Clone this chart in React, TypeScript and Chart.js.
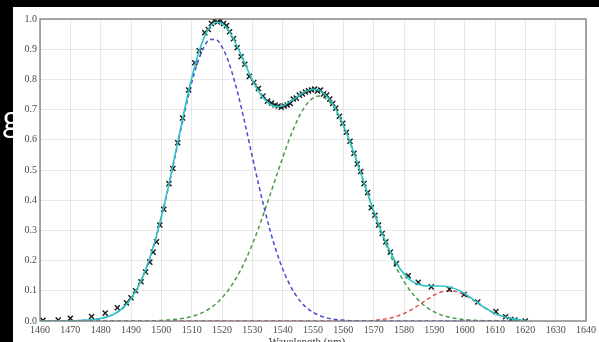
import React, { useEffect, useRef } from "react";
import { Chart, registerables } from "chart.js";

Chart.register(...registerables);

// Wavelength grid (nm) for the fitted curves
const waveGrid = [
  1460, 1462, 1464, 1466, 1468, 1470, 1472, 1474, 1476, 1478,
  1480, 1482, 1484, 1486, 1488, 1490, 1492, 1494, 1496, 1498,
  1500, 1502, 1504, 1506, 1508, 1510, 1512, 1514, 1516, 1518,
  1520, 1522, 1524, 1526, 1528, 1530, 1532, 1534, 1536, 1538,
  1540, 1542, 1544, 1546, 1548, 1550, 1552, 1554, 1556, 1558,
  1560, 1562, 1564, 1566, 1568, 1570, 1572, 1574, 1576, 1578,
  1580, 1582, 1584, 1586, 1588, 1590, 1592, 1594, 1596, 1598,
  1600, 1602, 1604, 1606, 1608, 1610, 1612, 1614, 1616, 1618,
  1620,
];

// Total fit (cyan)
const fitCurve = [
  0, 0, 0, 0, 0, 0, 0.001, 0.002, 0.003, 0.005,
  0.008, 0.013, 0.021, 0.033, 0.05, 0.074, 0.107, 0.149, 0.203, 0.268,
  0.345, 0.431, 0.525, 0.621, 0.716, 0.804, 0.878, 0.936, 0.974, 0.989,
  0.985, 0.964, 0.93, 0.888, 0.842, 0.798, 0.761, 0.734, 0.717, 0.71,
  0.713, 0.724, 0.737, 0.751, 0.762, 0.767, 0.764, 0.75, 0.726, 0.692,
  0.649, 0.598, 0.542, 0.483, 0.423, 0.365, 0.31, 0.261, 0.218, 0.183,
  0.156, 0.136, 0.124, 0.118, 0.116, 0.116, 0.116, 0.114, 0.109, 0.102,
  0.091, 0.077, 0.063, 0.048, 0.036, 0.025, 0.017, 0.011, 0.007, 0.004,
  0.002,
];

// Component 1 (blue dashed)
const peakBlue = [
  0, 0, 0, 0, 0, 0, 0.001, 0.002, 0.003, 0.005,
  0.008, 0.013, 0.021, 0.033, 0.05, 0.074, 0.107, 0.149, 0.202, 0.267,
  0.343, 0.428, 0.52, 0.614, 0.706, 0.789, 0.857, 0.906, 0.932, 0.932,
  0.908, 0.863, 0.799, 0.722, 0.635, 0.544, 0.455, 0.371, 0.295, 0.228,
  0.172, 0.127, 0.091, 0.063, 0.043, 0.029, 0.019, 0.012, 0.007, 0.004,
  0.003, 0.001, 0.001, 0, 0, 0, 0, 0, 0, 0,
  0, 0, 0, 0, 0, 0, 0, 0, 0, 0,
  0, 0, 0, 0, 0, 0, 0, 0, 0, 0,
  0,
];

// Component 2 (green dashed)
const peakGreen = [
  0, 0, 0, 0, 0, 0, 0, 0, 0, 0,
  0, 0, 0, 0, 0, 0, 0, 0, 0.001, 0.001,
  0.002, 0.003, 0.005, 0.007, 0.01, 0.015, 0.021, 0.03, 0.042, 0.057,
  0.077, 0.101, 0.131, 0.166, 0.207, 0.254, 0.306, 0.363, 0.422, 0.482,
  0.541, 0.597, 0.646, 0.688, 0.719, 0.738, 0.745, 0.738, 0.719, 0.688,
  0.646, 0.597, 0.541, 0.482, 0.422, 0.363, 0.306, 0.254, 0.207, 0.166,
  0.131, 0.101, 0.077, 0.057, 0.042, 0.03, 0.021, 0.015, 0.01, 0.007,
  0.005, 0.003, 0.002, 0.001, 0.001, 0, 0, 0, 0, 0,
  0,
];

// Component 3 (red dashed)
const peakRed = [
  0, 0, 0, 0, 0, 0, 0, 0, 0, 0,
  0, 0, 0, 0, 0, 0, 0, 0, 0, 0,
  0, 0, 0, 0, 0, 0, 0, 0, 0, 0,
  0, 0, 0, 0, 0, 0, 0, 0, 0, 0,
  0, 0, 0, 0, 0, 0, 0, 0, 0, 0,
  0, 0, 0, 0.001, 0.001, 0.002, 0.004, 0.007, 0.011, 0.017,
  0.025, 0.035, 0.047, 0.061, 0.074, 0.086, 0.095, 0.099, 0.099, 0.095,
  0.086, 0.074, 0.061, 0.047, 0.035, 0.025, 0.017, 0.011, 0.007, 0.004,
  0.002,
];

// Measured spectrum (black x markers)
const measWave = [
  1461, 1466, 1470, 1477, 1481.5, 1485.5, 1488.5, 1490, 1491.5, 1493.3,
  1494.8, 1496.2, 1497.3, 1498.4, 1499.5, 1500.8, 1502.5, 1503.8, 1505.4, 1507,
  1509, 1511, 1512.5, 1514.3, 1515.5, 1516.5, 1517.5, 1518.5, 1519.5, 1520.5,
  1521.5, 1522.5, 1523.8, 1525, 1526.3, 1527.5, 1529, 1530.5, 1532, 1533.5,
  1535, 1536.3, 1537.5, 1538.5, 1539.5, 1540.5, 1541.5, 1542.5, 1543.5, 1544.5,
  1545.5, 1546.5, 1547.5, 1548.5, 1549.5, 1550.5, 1551.5, 1552.5, 1553.5, 1554.5,
  1555.5, 1556.5, 1557.5, 1558.7, 1559.8, 1561, 1562.2, 1563.5, 1564.6, 1565.7,
  1566.8, 1568, 1569.2, 1570.4, 1571.6, 1572.8, 1574, 1575.5, 1577.5, 1581.4,
  1584.7, 1589, 1595, 1599.8, 1604.3, 1610.3, 1613.5, 1615.2, 1616.5, 1620,
];
const measIntensity = [
  0.002, 0.003, 0.009, 0.015, 0.026, 0.044, 0.06, 0.077, 0.1, 0.13,
  0.162, 0.195, 0.228, 0.262, 0.318, 0.37, 0.455, 0.505, 0.59, 0.672,
  0.765, 0.855, 0.895, 0.955, 0.965, 0.985, 0.995, 0.99, 0.995, 0.985,
  0.978, 0.958, 0.935, 0.905, 0.875, 0.85, 0.81, 0.79, 0.77, 0.745,
  0.728, 0.722, 0.715, 0.712, 0.708, 0.712, 0.715, 0.72, 0.735, 0.738,
  0.748, 0.752, 0.758, 0.762, 0.765, 0.768, 0.762, 0.765, 0.752, 0.748,
  0.735, 0.72, 0.705, 0.678, 0.655, 0.625, 0.595, 0.555, 0.52, 0.495,
  0.455, 0.425, 0.375, 0.35, 0.318, 0.29, 0.262, 0.228, 0.19, 0.15,
  0.128, 0.113, 0.105, 0.088, 0.063, 0.031, 0.014, 0.005, 0.003, 0,
];

const xMin = 1460;
const xMax = 1640;
const xStep = 10;
const yMin = 0;
const yMax = 1;
const yStep = 0.1;
const xAxisTitle = "Wavelength (nm)";
const sideText = "ng";

const serif = '"Liberation Serif", "DejaVu Serif", serif';

export default function App() {
  const ref = useRef<HTMLCanvasElement>(null);

  useEffect(() => {
    document.body.style.margin = "0";
    document.body.style.background = "#000";
    const canvas = ref.current;
    if (!canvas) return;

    const toPts = (xs: number[], ys: number[]) => xs.map((x, i) => ({ x, y: ys[i] }));

    const background = {
      id: "bgPanel",
      beforeDraw(chart: any) {
        const c = chart.ctx;
        c.save();
        c.fillStyle = "#000";
        c.fillRect(0, 0, chart.width, chart.height);
        c.fillStyle = "#fff";
        c.fillRect(13, 7, chart.width - 13, chart.height - 7);
        c.restore();
      },
      afterDraw(chart: any) {
        const c = chart.ctx;
        const { left, top, right, bottom } = chart.chartArea;
        c.save();
        c.strokeStyle = "#7a7a7a";
        c.lineWidth = 1.3;
        c.strokeRect(left, top, right - left, bottom - top);
        c.fillStyle = "#333";
        c.font = `11px ${serif}`;
        c.textAlign = "center";
        c.textBaseline = "top";
        c.fillText(xAxisTitle, 307, 337);
        c.fillStyle = "#fff";
        c.font = '32px "Open Sans", sans-serif';
        c.textAlign = "right";
        c.textBaseline = "alphabetic";
        c.fillText(sideText, 20, 130);
        c.restore();
      },
    };

    const chart = new Chart(canvas, {
      type: "scatter",
      data: {
        datasets: [
          {
            label: "fit",
            data: toPts(waveGrid, fitCurve),
            showLine: true,
            borderColor: "#2cc6c6",
            borderWidth: 1.6,
            pointRadius: 0,
            cubicInterpolationMode: "monotone",
          },
          {
            label: "data",
            data: toPts(measWave, measIntensity),
            showLine: false,
            pointStyle: "crossRot",
            pointRadius: 3.6,
            borderColor: "#1a1a1a",
            backgroundColor: "#1a1a1a",
            pointBorderWidth: 1.4,
          },
          {
            label: "peak 1",
            data: toPts(waveGrid, peakBlue),
            showLine: true,
            borderColor: "#4a4ad4",
            borderWidth: 1.5,
            borderDash: [4, 3],
            pointRadius: 0,
            cubicInterpolationMode: "monotone",
          },
          {
            label: "peak 2",
            data: toPts(waveGrid, peakGreen),
            showLine: true,
            borderColor: "#4a9a4a",
            borderWidth: 1.5,
            borderDash: [4, 3],
            pointRadius: 0,
            cubicInterpolationMode: "monotone",
          },
          {
            label: "peak 3",
            data: toPts(waveGrid, peakRed),
            showLine: true,
            borderColor: "#e05050",
            borderWidth: 1.5,
            borderDash: [4, 3],
            pointRadius: 0,
            cubicInterpolationMode: "monotone",
          },
        ] as any,
      },
      options: {
        animation: false,
        responsive: false,
        devicePixelRatio: 1,
        layout: { padding: { left: 13, top: 19, right: 8, bottom: 0 }, autoPadding: false } as any,
        plugins: { legend: { display: false }, tooltip: { enabled: false } },
        scales: {
          x: {
            type: "linear",
            min: xMin,
            max: xMax,
            ticks: {
              stepSize: xStep,
              autoSkip: false,
              maxRotation: 0,
              padding: 3,
              color: "#4a4a4a",
              font: { family: serif, size: 10 },
              callback: (v: any) => String(v),
            },
            grid: { color: "rgba(0,0,0,0.09)", drawTicks: false },
            border: { display: false },
            afterFit: (s: any) => {
              s.height = 21;
            },
          },
          y: {
            min: yMin,
            max: yMax,
            ticks: {
              stepSize: yStep,
              padding: 3,
              color: "#4a4a4a",
              font: { family: serif, size: 10 },
              callback: (v: any) => Number(v).toFixed(1),
            },
            grid: { color: "rgba(0,0,0,0.09)", drawTicks: false },
            border: { display: false },
            afterFit: (s: any) => {
              s.width = 27;
            },
          },
        },
      } as any,
      plugins: [background],
    });

    return () => chart.destroy();
  }, []);

  return (
    <div style={{ position: "fixed", left: 0, top: 0, width: 599, height: 342, background: "#000" }}>
      <canvas ref={ref} width={599} height={342} style={{ display: "block", width: 599, height: 342 }} />
    </div>
  );
}
